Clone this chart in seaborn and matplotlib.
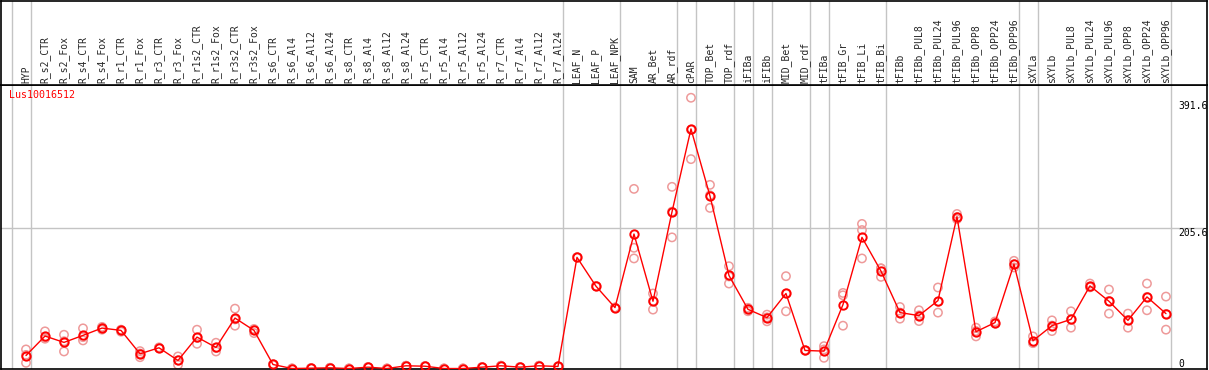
import numpy as np
import pandas as pd
import matplotlib
matplotlib.use("Agg")
import matplotlib.pyplot as plt
import seaborn as sns

# sample labels (one column each)
labels = [
    "HYP", "R_s2_CTR", "R_s2_Fox", "R_s4_CTR", "R_s4_Fox", "R_r1_CTR", "R_r1_Fox",
    "R_r3_CTR", "R_r3_Fox", "R_r1s2_CTR", "R_r1s2_Fox", "R_r3s2_CTR", "R_r3s2_Fox",
    "R_s6_CTR", "R_s6_Al4", "R_s6_Al12", "R_s6_Al24", "R_s8_CTR", "R_s8_Al4",
    "R_s8_Al12", "R_s8_Al24", "R_r5_CTR", "R_r5_Al4", "R_r5_Al12", "R_r5_Al24",
    "R_r7_CTR", "R_r7_Al4", "R_r7_Al12", "R_r7_Al24", "LEAF_N", "LEAF_P", "LEAF_NPK",
    "SAM", "AR_Bet", "AR_rdf", "cPAR", "TOP_Bet", "TOP_rdf", "iFIBa", "iFIBb",
    "MID_Bet", "MID_rdf", "tFIBa", "tFIB_Gr", "tFIB_Li", "tFIB_Bi", "tFIBb",
    "tFIBb_PUL8", "tFIBb_PUL24", "tFIBb_PUL96", "tFIBb_OPP8", "tFIBb_OPP24",
    "tFIBb_OPP96", "sXYLa", "sXYLb", "sXYLb_PUL8", "sXYLb_PUL24", "sXYLb_PUL96",
    "sXYLb_OPP8", "sXYLb_OPP24", "sXYLb_OPP96",
]

# mean expression per sample
means = [
    19.0, 47.6, 38.3, 48.6, 59.3, 55.9, 21.6, 30.4, 11.8, 46.1, 30.9, 74.0, 55.9,
    5.9, 0.0, 0.5, 1.0, 0.0, 2.0, 0.0, 4.0, 3.4, 0.0, 0.0, 2.0, 4.0, 2.0, 4.0, 3.0,
    163.0, 120.7, 89.3, 197.2, 98.6, 229.6, 351.3, 253.0, 136.4, 86.8, 74.6,
    110.0, 26.5, 25.5, 93.7, 192.3, 142.8, 82.0, 77.6, 99.6, 222.7, 54.0, 67.3,
    153.0, 40.7, 62.8, 72.1, 121.2, 98.6, 70.6, 105.0, 80.5,
]

# individual replicates per sample
replicates = [
    [28.0, 8.4, 20.0], [54.5, 43.7, 45.0], [49.5, 25.0, 40.0], [58.9, 41.2, 46.0],
    [61.0, 57.0, 60.0], [57.0, 54.0, 56.0], [25.5, 16.6, 22.0], [31.0, 30.0, 30.0],
    [17.7, 5.4, 12.0], [56.9, 36.3, 45.0], [37.8, 25.0, 30.0], [87.8, 62.8, 72.0],
    [58.0, 52.0, 57.0], [6.0, 6.0, 5.5], [0.0, 0.0, 0.0], [0.5, 0.5, 0.5],
    [1.0, 1.0, 1.0], [0.0, 0.0, 0.0], [2.0, 2.0, 2.0], [0.0, 0.0, 0.0],
    [4.0, 4.0, 4.0], [3.4, 3.4, 3.4], [0.0, 0.0, 0.0], [0.0, 0.0, 0.0],
    [2.0, 2.0, 2.0], [4.0, 4.0, 4.0], [2.0, 2.0, 2.0], [4.0, 4.0, 4.0],
    [3.0, 3.0, 3.0], [163.0, 163.0, 163.0], [120.7, 120.7, 120.7], [89.3, 89.3, 89.3],
    [263.4, 177.0, 161.4], [110.0, 86.4, 99.0], [266.4, 192.3, 230.0],
    [397.0, 307.0, 350.0], [269.3, 235.5, 254.0], [150.0, 124.6, 135.0],
    [87.0, 84.0, 89.0], [79.0, 69.2, 75.0], [135.4, 83.9, 110.0],
    [26.5, 26.5, 26.5], [32.8, 15.7, 28.0], [110.8, 107.4, 62.8],
    [212.0, 203.0, 161.4], [146.7, 134.4, 147.0], [90.2, 73.1, 82.0],
    [85.4, 69.6, 78.0], [118.8, 82.0, 98.0], [226.6, 222.0, 219.0],
    [59.9, 47.1, 55.0], [69.0, 66.0, 67.0], [157.9, 148.2, 153.0],
    [47.1, 37.2, 38.0], [70.6, 54.9, 63.0], [83.9, 59.9, 72.0],
    [124.6, 120.0, 119.0], [115.8, 80.5, 99.0], [80.5, 59.9, 71.0],
    [124.6, 85.4, 105.0], [105.5, 57.0, 80.0],
]

# columns after which a grey separator is drawn
group_ends = [-1, 0, 28, 31, 34, 35, 37, 38, 39, 41, 42, 45, 52, 53, 60]

gene = "Lus10016512"
y_labels = [391.6, 205.6]

sns.set_style("white")
plt.rcParams["font.family"] = ["DejaVu Sans Mono", "DejaVu Sans"]

idx = np.arange(len(labels))
df_mean = pd.DataFrame({"idx": idx, "value": means})
df_rep = pd.DataFrame({
    "idx": np.repeat(idx, [len(r) for r in replicates]),
    "value": [v for r in replicates for v in r],
})

W, H = 1209, 370
fig = plt.figure(figsize=(W / 100, H / 100), dpi=100)
xlim = (-1.316, 62.16)

ax = fig.add_axes([1 / W, 1 / H, 1206 / W, 284 / H])
hdr = fig.add_axes([1 / W, 285 / H, 1206 / W, 84 / H])

for a in (ax, hdr):
    a.set_xlim(*xlim)
    for s in a.spines.values():
        s.set_color("black")
        s.set_linewidth(1.2)
    a.set_xticks([])
    a.set_yticks([])
    for g in group_ends:
        a.axvline(g + 0.24, color="#c4c4c4", lw=1, zorder=0)

ax.set_ylim(-0.7, 415.7)
ax.axhline(205.6, color="#c4c4c4", lw=1, zorder=0)

# replicates
sns.scatterplot(data=df_rep, x="idx", y="value", ax=ax, marker="o", s=36,
                facecolors="none", edgecolor="#ee9a9a", linewidth=1.1,
                zorder=2, legend=False)
# mean line
sns.lineplot(data=df_mean, x="idx", y="value", ax=ax, color="red", lw=1.0,
             marker="o", markersize=6, markerfacecolor="none",
             markeredgecolor="red", markeredgewidth=1.4, zorder=3)
ax.set_xlabel("")
ax.set_ylabel("")
ax.set_xlim(*xlim)

for v in y_labels:
    ax.text(60.63, v, f"{v}", ha="left", va="top", fontsize=7, color="black")
ax.text(60.63, 0, "0", ha="left", va="bottom", fontsize=7, color="black")

ax.text(-0.9, 409, gene, ha="left", va="top", color="red", fontsize=7.2)

hdr.set_ylim(0, 1)
for i, lab in enumerate(labels):
    hdr.text(i, 0.02, lab, rotation=90, ha="center", va="bottom", fontsize=7)

fig.savefig("out.png", dpi=100)
